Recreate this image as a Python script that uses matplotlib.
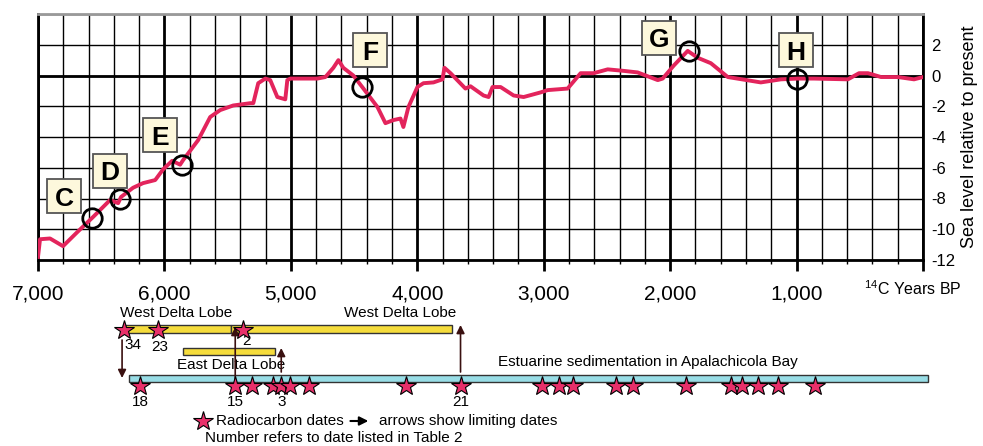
import numpy as np
import matplotlib.pyplot as plt

plt.rcParams['font.family'] = ['Liberation Sans', 'DejaVu Sans']
plt.rcParams['mathtext.default'] = 'regular'

# sea level curve (14C years BP, metres relative to present)
years = [7000, 6984, 6905, 6802, 6691, 6564, 6430, 6366, 6343, 6248, 6169, 6073,
         6010, 5939, 5876, 5852, 5733, 5638, 5559, 5456, 5321, 5297, 5258, 5202,
         5163, 5107, 5044, 5028, 5004, 4791, 4727, 4664, 4624, 4585, 4506, 4426,
         4315, 4252, 4189, 4133, 4110, 4070, 3999, 3951, 3872, 3801, 3785, 3737,
         3619, 3579, 3476, 3436, 3405, 3341, 3238, 3159, 3025, 2969, 2811, 2708,
         2605, 2494, 2367, 2257, 2098, 2059, 1971, 1861, 1781, 1678, 1544, 1283,
         1124, 990, 863, 594, 506, 435, 332, 198, 71, 0]
level = [-11.8, -10.65, -10.6, -11.1, -10.2, -9.2, -8.1, -8.3, -7.9, -7.3, -7.0, -6.8,
         -6.1, -5.55, -5.8, -5.5, -4.2, -2.7, -2.25, -1.95, -1.8, -1.8, -0.5, -0.2,
         -0.3, -1.4, -1.55, -0.3, -0.2, -0.2, -0.1, 0.5, 1.0, 0.5, 0.0, -0.85,
         -2.05, -3.1, -2.9, -2.8, -3.35, -2.05, -0.75, -0.5, -0.45, -0.25, 0.5, 0.15,
         -0.85, -0.7, -1.3, -1.4, -0.75, -0.75, -1.3, -1.4, -1.1, -0.95, -0.85, 0.15,
         0.15, 0.4, 0.3, 0.2, -0.3, -0.2, 0.65, 1.6, 1.15, 0.8, -0.1, -0.45,
         -0.25, -0.2, -0.2, -0.25, 0.15, 0.15, -0.1, -0.1, -0.25, -0.1]

# marked points C-H
pt_labels = ['C', 'D', 'E', 'F', 'G', 'H']
pt_years = [6572, 6351, 5860, 4434, 1853, 1000]
pt_level = [-9.3, -8.06, -5.8, -0.77, 1.6, -0.2]

# delta lobes and estuary (start, end in years BP)
west_lobes = [(6327, 5472), (5472, 3722)]
east_lobe = (5852, 5123)
estuary = (6279, -40)

# radiocarbon dates
west_dates = [6319, 6050, 5377]
west_nums = ['34', '23', '2']
est_dates = [6192, 5440, 5305, 5139, 5076, 5004, 4854, 4086, 3658, 3017, 2882,
             2771, 2431, 2296, 1876, 1520, 1433, 1306, 1148, 855]
est_nums = {6192: '18', 5440: '15', 5076: '3', 3658: '21'}

fig = plt.figure(figsize=(9.83, 4.46), dpi=100)
W, H = 983, 446
L, R = 38, 923
ax = fig.add_axes([L / W, 1 - 260 / H, (R - L) / W, (260 - 14) / H])

ax.plot(years, level, color='#e3245c', lw=2.8, zorder=5)
ax.set_xlim(7000, 0)
ax.set_ylim(-12, 4)

ax.set_xticks(np.arange(0, 7001, 1000))
ax.set_xticks(np.arange(0, 7001, 200), minor=True)
ax.set_xticklabels([f'{v:,}' if v > 0 else '' for v in range(0, 7001, 1000)], fontsize=15)
ax.set_yticks(np.arange(-12, 5, 2))
ax.set_yticklabels([str(v) if v < 4 else '' for v in range(-12, 5, 2)], fontsize=12)
ax.yaxis.tick_right()
ax.yaxis.set_label_position('right')
ax.set_ylabel('Sea level relative to present', fontsize=13, labelpad=4)

ax.grid(which='minor', axis='x', color='black', lw=1.0)
ax.grid(which='major', axis='x', color='black', lw=2.0)
ax.grid(which='major', axis='y', color='black', lw=1.0)
ax.axhline(0, color='black', lw=2.0, zorder=1)
ax.set_axisbelow(True)
ax.tick_params(axis='x', which='major', length=8, width=2, pad=10)
ax.tick_params(axis='x', which='minor', length=3, width=1)
ax.tick_params(axis='y', length=0, pad=6)
for side in ['left', 'bottom', 'right']:
    ax.spines[side].set_linewidth(2)
ax.spines['top'].set_color('#999999')
ax.spines['top'].set_linewidth(2)

ax.text(0.988, -0.115, '$^{14}$C Years BP', transform=ax.transAxes, fontsize=11.5,
        ha='center', va='center')

ax.plot(pt_years, pt_level, 'o', ms=14, mfc='none', mec='black', mew=2, zorder=6)

# label boxes
box_x = [6794, 6431, 6035, 4374, 2089, 1005]
box_y = [-7.84, -6.18, -3.9, 1.63, 2.47, 1.63]
ax.plot(box_x, box_y, 's', ms=25, mfc='#fdf8dc', mec='#555555', mew=1.3, zorder=7)
for lab, x, y in zip(pt_labels, box_x, box_y):
    ax.text(x, y, lab, fontsize=19, fontweight='bold', ha='center', va='center_baseline',
            zorder=8)

# lower panel, y in pixel rows
lx = fig.add_axes([L / W, 0, (R - L) / W, (446 - 300) / H])
lx.set_xlim(7000, 0)
lx.set_ylim(446, 300)
lx.axis('off')

for a, b in west_lobes:
    lx.barh(329, b - a, left=a, height=8, color='#f5dc3c', edgecolor='#333333', lw=1, zorder=2)
lx.barh(351, east_lobe[1] - east_lobe[0], left=east_lobe[0], height=7,
        color='#f5dc3c', edgecolor='#333333', lw=1, zorder=2)
lx.barh(378, estuary[1] - estuary[0], left=estuary[0], height=7,
        color='#98dde6', edgecolor='#333333', lw=1, zorder=2, clip_on=False)

lx.text(5907, 313, 'West Delta Lobe', fontsize=11, ha='center', va='center')
lx.text(4133, 313, 'West Delta Lobe', fontsize=11, ha='center', va='center')
lx.text(5472, 365, 'East Delta Lobe', fontsize=11, ha='center', va='center')
lx.text(3365, 362, 'Estuarine sedimentation in Apalachicola Bay', fontsize=11,
        ha='left', va='center')

# limiting-date arrows
arrows = [(6335, 340, 378), (5440, 383, 327), (5076, 372, 348), (3658, 372, 325)]
for x, y0, y1 in arrows:
    lx.annotate('', xy=(x, y1), xytext=(x, y0),
                arrowprops=dict(arrowstyle='-|>', color='#3a1010', lw=1.2,
                                mutation_scale=12, shrinkA=0, shrinkB=0), zorder=3)

star = dict(marker='*', ms=15, mfc='#e8306a', mec='black', mew=0.8, ls='none', zorder=4)
lx.plot(west_dates, [330] * len(west_dates), **star)
lx.plot(est_dates, [386] * len(est_dates), **star)
for x, n, (dx, dy) in zip(west_dates, west_nums, [(-70, 345), (-15, 347), (-30, 341)]):
    lx.text(x + dx, dy, n, fontsize=11, ha='center', va='center')
for x, n in est_nums.items():
    lx.text(x, 402, n, fontsize=11, ha='center', va='center')

# legend
lx.plot([5693], [421], **star)
lx.text(5590, 421, 'Radiocarbon dates', fontsize=11, ha='left', va='center')
lx.annotate('', xy=(4387, 421), xytext=(4529, 421),
            arrowprops=dict(arrowstyle='-|>', color='black', lw=1.5, mutation_scale=13,
                            shrinkA=0, shrinkB=0))
lx.text(4300, 421, 'arrows show limiting dates', fontsize=11, ha='left', va='center')
lx.text(5678, 438, 'Number refers to date listed in Table 2', fontsize=11,
        ha='left', va='center')

fig.savefig('out.png', dpi=100)
